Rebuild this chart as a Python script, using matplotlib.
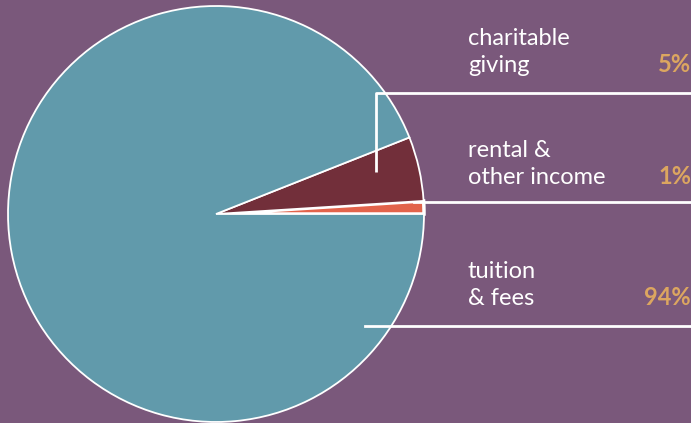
import matplotlib.pyplot as plt

# data
labels = ["rental &\nother income", "charitable\ngiving", "tuition\n& fees"]
shares = [1, 5, 94]
pct_labels = ["1%", "5%", "94%"]
colors = ["#e2634b", "#722f3a", "#619aab"]

BG = "#7a587b"
GOLD = "#dca660"
H = 423

fig = plt.figure(figsize=(6.91, 4.23), dpi=100, facecolor=BG)
ax = fig.add_axes([0, 0, 1, 1])
ax.set_facecolor(BG)

def y(py):
    # pixel row (from top) -> data y
    return H - py

wedges, _ = ax.pie(shares, colors=colors, startangle=0, counterclock=True,
                   center=(216, y(214)), radius=208, frame=True,
                   explode=[0.012, 0, 0],
                   wedgeprops=dict(edgecolor="white", linewidth=1.3))
wedges[0].set_linewidth(2.5)
ax.set_xlim(0, 691)
ax.set_ylim(0, H)
ax.set_aspect("equal")
ax.axis("off")

# leader lines
lw = 2
ax.plot([376, 376, 691], [y(172), y(93), y(93)], color="white", lw=lw,
        solid_capstyle="butt")
ax.plot([414, 691], [y(202), y(202)], color="white", lw=lw)
ax.plot([365, 691], [y(326), y(326)], color="white", lw=lw)

font = "Lato"
text_pos = {0: 184, 1: 72, 2: 305}
for i, lab in enumerate(labels):
    base = text_pos[i]
    ax.text(468, y(base), lab, ha="left", va="baseline", color="white",
            fontsize=17, family=font, linespacing=1.38)
    ax.text(691, y(base), pct_labels[i], ha="right", va="baseline",
            color=GOLD, fontsize=17, fontweight="bold", family=font)

fig.savefig("out.png", dpi=100, facecolor=BG)
